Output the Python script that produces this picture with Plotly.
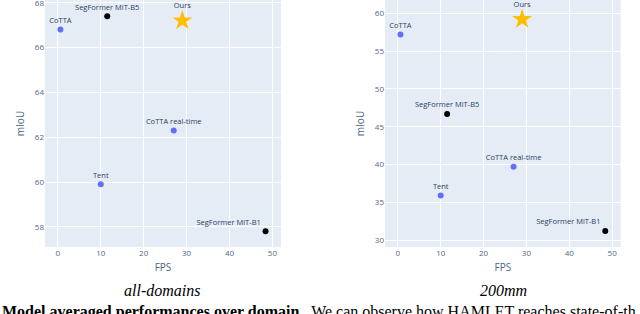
import plotly.graph_objects as go

# ---- data ----
methods = ["CoTTA", "Tent", "CoTTA real-time", "SegFormer MiT-B5", "SegFormer MiT-B1", "Ours"]
groups = ["tta", "tta", "tta", "seg", "seg", "ours"]
fps = [0.6, 10, 27, 11.5, 48.4, 29]
miou_all = [66.8, 59.9, 62.3, 67.4, 57.8, 67.2]
miou_200 = [57.2, 35.9, 39.7, 46.7, 31.2, 59.2]
label_pos = ["top center", "top center", "top center", "top center", "top left", "top center"]
captions = ["all-domains", "200mm"]
bottom_bold = "Model averaged performances over domain."
bottom_rest = "&nbsp; We can observe how HAMLET reaches state-of-th"

W, H = 640, 314
style = {
    "tta": dict(color="#636efa", symbol="circle", size=6),
    "seg": dict(color="black", symbol="circle", size=6),
    "ours": dict(color="#FFBF00", symbol="star", size=15),
}

fig = go.Figure()
for k, miou in enumerate([miou_all, miou_200]):
    xa = "x" if k == 0 else "x2"
    ya = "y" if k == 0 else "y2"
    for g in ["tta", "seg", "ours"]:
        idx = [i for i, gg in enumerate(groups) if gg == g]
        fig.add_trace(go.Scatter(
            x=[fps[i] for i in idx],
            y=[miou[i] for i in idx],
            text=[methods[i] for i in idx],
            textposition=[label_pos[i] for i in idx],
            mode="markers+text",
            marker=dict(color=style[g]["color"], symbol=style[g]["symbol"],
                        size=style[g]["size"], line=dict(width=0)),
            textfont=dict(size=7.5, color="#2a3f5f"),
            xaxis=xa, yaxis=ya, showlegend=False,
        ))

ydom = [1 - 247 / H, 1]
axfont = dict(size=8, color="#506784")
common = dict(tickfont=axfont, gridcolor="white", zeroline=False, automargin=False,
              ticklabeloverflow="allow")
fig.update_layout(
    width=W, height=H,
    margin=dict(l=0, r=0, t=0, b=0),
    paper_bgcolor="white",
    plot_bgcolor="#E5ECF6",
    font=dict(family="Open Sans", color="#2a3f5f"),
    showlegend=False,
    xaxis=dict(domain=[45 / W, 281 / W], range=[-3, 52], dtick=10, **common,
               title=dict(text="FPS", font=dict(size=10, color="#506784"), standoff=6)),
    yaxis=dict(domain=ydom, range=[57.1, 68.12], dtick=2, **common,
               title=dict(text="mIoU", font=dict(size=10, color="#506784"), standoff=8)),
    xaxis2=dict(domain=[385 / W, 620.7 / W], range=[-3, 52], dtick=10, anchor="y2", **common,
                title=dict(text="FPS", font=dict(size=10, color="#506784"), standoff=6)),
    yaxis2=dict(domain=ydom, range=[29.1, 61.76], dtick=5, anchor="x2", **common,
                title=dict(text="mIoU", font=dict(size=10, color="#506784"), standoff=8)),
)

serif = dict(family="Liberation Serif", size=16, color="black")
for cx, cap in zip([162.4, 503], captions):
    fig.add_annotation(x=cx / W, y=1 - 290 / H, xref="paper", yref="paper",
                       text="<i>" + cap + "</i>", showarrow=False, font=serif,
                       xanchor="center", yanchor="middle")
fig.add_annotation(x=0, y=1 - 312 / H, xref="paper", yref="paper",
                   text="<b>" + bottom_bold + "</b>" + bottom_rest, showarrow=False,
                   font=serif, xanchor="left", yanchor="middle")

fig.write_html("out.html", config={"displayModeBar": False},
               post_script="document.body.style.margin='0';document.body.style.overflow='hidden';")
